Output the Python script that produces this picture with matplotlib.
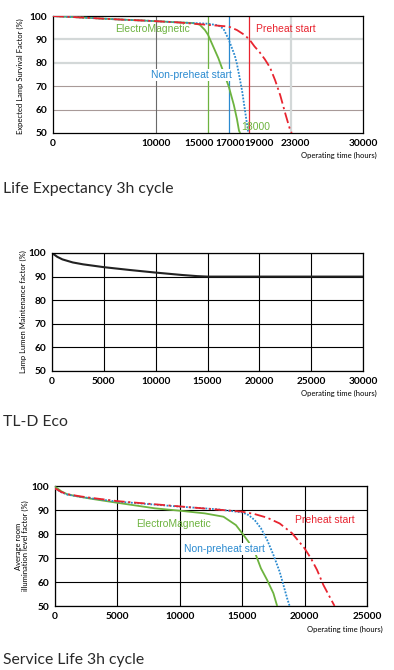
import matplotlib
matplotlib.use("Agg")
import matplotlib.pyplot as plt
import matplotlib.transforms as mtransforms

# --- Life Expectancy 3h cycle ---
em1_x = [0, 3000, 6000, 9000, 12000, 13500, 14200, 14700, 15000, 15500, 16000, 16500, 17000, 17500, 17800, 18000, 18100]
em1_y = [100, 99.3, 98.6, 98, 97.3, 97, 96.3, 94, 92, 87, 82, 76, 70, 62, 56, 51, 50]
np1_x = [0, 3000, 6000, 9000, 12000, 15000, 16000, 16500, 17000, 17300, 17600, 17800, 18000, 18300, 18500, 18700, 18900]
np1_y = [100, 99.3, 98.6, 98, 97.3, 96.7, 96, 94.5, 90, 86.5, 83, 79.5, 75, 68, 62, 56, 50]
ph1_x = [0, 3000, 6000, 9000, 12000, 15000, 17000, 17800, 18500, 19000, 19500, 20000, 20500, 21000, 21500, 22000, 22500, 22900, 23100]
ph1_y = [100, 99.3, 98.6, 98, 97.3, 96.2, 95.5, 94, 92, 90, 87, 84.5, 81.5, 78, 72.5, 66, 58, 52, 50]
ticks1 = [0, 10000, 15000, 17000, 19000, 23000, 30000]

# --- TL-D Eco lumen maintenance ---
eco_x = [0, 250, 500, 1000, 2000, 3000, 4000, 5000, 7500, 10000, 12500, 14000, 15000, 30000]
eco_y = [100, 99.2, 98.4, 97.3, 96, 95.2, 94.6, 94, 92.8, 91.7, 90.7, 90.2, 90, 90]

# --- Service Life 3h cycle ---
em3_x = [0, 250, 500, 1000, 2000, 3000, 5000, 8000, 10000, 12000, 13500, 14500, 15000, 15500, 16000, 16500, 17000, 17500, 17800]
em3_y = [99.7, 98.8, 97.8, 96.5, 95.5, 94.6, 93, 90.7, 89.7, 88.6, 87.2, 83.7, 80.3, 76.8, 72.6, 65.7, 60.8, 55.3, 50]
np3_x = [0, 250, 500, 1000, 2000, 3000, 5000, 10000, 13000, 15000, 15500, 16000, 16500, 17000, 17500, 18000, 18300, 18600, 18800]
np3_y = [99, 98.2, 97.4, 96.4, 95.5, 94.8, 93.5, 91.4, 90.3, 89, 87.9, 85.8, 82.4, 77.5, 71.3, 64.3, 58.8, 53.2, 50]
ph3_x = [0, 250, 500, 1000, 2000, 3000, 5000, 10000, 15000, 16000, 17000, 18000, 19000, 20000, 20500, 21000, 21500, 22000, 22400]
ph3_y = [99, 98.3, 97.5, 96.6, 95.7, 95, 93.7, 91.5, 89.3, 88.3, 86.8, 84.4, 80.3, 74, 69.9, 65, 58.8, 53.9, 50]

GREEN = "#6db33f"
BLUE = "#2a8ad0"
RED = "#e8242f"
DASHDOT = (0, (6, 2, 1.2, 2))
DOTTED = (0, (1, 0.8))

W, H = 394, 670
fig = plt.figure(figsize=(W / 100, H / 100), dpi=100)


def axes_px(left, top, right, bottom):
    return fig.add_axes([left / W, 1 - bottom / H, (right - left) / W, (bottom - top) / H])


def style_axes(ax, xmax):
    ax.set_xlim(0, xmax)
    ax.set_ylim(50, 100)
    ax.set_yticks([50, 60, 70, 80, 90, 100])
    ax.tick_params(length=0, labelsize=7.3, pad=4)
    for lab in ax.get_xticklabels() + ax.get_yticklabels():
        lab.set_fontfamily("Lato")
        lab.set_fontweight("bold")
    for sp in ax.spines.values():
        sp.set_linewidth(0.9)
        sp.set_color("black")


tick_font = dict(family="Lato", size=5.5)
title_font = dict(family="Lato", size=11.3, weight="normal", color="#2a2a2a")
curve_font = dict(family="Liberation Sans", size=7.5)
white_box = dict(facecolor="white", edgecolor="none", pad=0.5)

# chart 1
ax1 = axes_px(53, 16, 363, 133)
ax1.set_xticks(ticks1)
ax1.set_xticklabels([str(t) for t in ticks1])
style_axes(ax1, 30000)
for y in [90, 80]:
    ax1.axhline(y, color="#d3d8d8", lw=1.6, zorder=1)
for y in [70, 60]:
    ax1.axhline(y, color="#a89a98", lw=0.8, zorder=1)
ax1.axvline(10000, color="#6a6a6a", lw=0.8, zorder=1)
ax1.axvline(23000, color="#d3d8d8", lw=1.6, zorder=1)
ax1.axvline(15000, color=GREEN, lw=0.9, zorder=2)
ax1.axvline(17000, color=BLUE, lw=0.9, zorder=2)
ax1.axvline(19000, color=RED, lw=0.9, zorder=2)
ax1.plot(em1_x, em1_y, color=GREEN, lw=1.3, zorder=3)
ax1.plot(np1_x, np1_y, color=BLUE, lw=1.3, ls=DOTTED, zorder=3)
ax1.plot(ph1_x, ph1_y, color=RED, lw=1.3, ls=DASHDOT, zorder=4)
shifts = {15000: -9, 17000: 1, 19000: 10, 23000: 5}
for t, lab in zip(ticks1, ax1.get_xticklabels()):
    if t in shifts:
        off = mtransforms.ScaledTranslation(shifts[t] / 100, 0, fig.dpi_scale_trans)
        lab.set_transform(lab.get_transform() + off)
ax1.text(115 / W, 1 - 29 / H, "ElectroMagnetic", color=GREEN, transform=fig.transFigure,
         va="center", ha="left", zorder=5, **curve_font)
ax1.text(256 / W, 1 - 29 / H, "Preheat start", color=RED, transform=fig.transFigure,
         va="center", ha="left", zorder=5, **curve_font)
ax1.text(151 / W, 1 - 75 / H, "Non-preheat start", color=BLUE, transform=fig.transFigure,
         va="center", ha="left", bbox=white_box, zorder=5, **curve_font)
ax1.text(241 / W, 1 - 127 / H, "18000", color=GREEN, transform=fig.transFigure,
         va="center", ha="left", zorder=5, **curve_font)
fig.text(20 / W, 1 - 76 / H, "Expected Lamp Survival Factor (%)", rotation=90,
         va="center", ha="center", **tick_font)
fig.text(377 / W, 1 - 155 / H, "Operating time (hours)", ha="right", va="center", **tick_font)
fig.text(3 / W, 1 - 189 / H, "Life Expectancy 3h cycle", ha="left", va="center", **title_font)

# chart 2
ax2 = axes_px(52, 253, 363, 371)
ax2.set_xticks(range(0, 30001, 5000))
style_axes(ax2, 30000)
ax2.grid(True, color="black", lw=0.8)
ax2.set_axisbelow(True)
ax2.plot(eco_x, eco_y, color="#222222", lw=1.5)
fig.text(23 / W, 1 - 312 / H, "Lamp Lumen Maintenance factor (%)", rotation=90,
         va="center", ha="center", **tick_font)
fig.text(377 / W, 1 - (230 + 163) / H, "Operating time (hours)", ha="right", va="center", **tick_font)
fig.text(3 / W, 1 - 422 / H, "TL-D Eco", ha="left", va="center", **title_font)

# chart 3
ax3 = axes_px(55, 486, 367, 606)
ax3.set_xticks(range(0, 25001, 5000))
style_axes(ax3, 25000)
ax3.grid(True, color="black", lw=0.8)
ax3.set_axisbelow(True)
ax3.plot(em3_x, em3_y, color=GREEN, lw=1.3, zorder=3)
ax3.plot(np3_x, np3_y, color=BLUE, lw=1.3, ls=DOTTED, zorder=3)
ax3.plot(ph3_x, ph3_y, color=RED, lw=1.3, ls=DASHDOT, zorder=4)
ax3.text(136 / W, 1 - 524 / H, "ElectroMagnetic", color=GREEN, transform=fig.transFigure,
         va="center", ha="left", zorder=5, **curve_font)
ax3.text(295 / W, 1 - 520 / H, "Preheat start", color=RED, transform=fig.transFigure,
         va="center", ha="left", zorder=5, **curve_font)
ax3.text(184 / W, 1 - 549 / H, "Non-preheat start", color=BLUE, transform=fig.transFigure,
         va="center", ha="left", bbox=white_box, zorder=5, **curve_font)
fig.text(22 / W, 1 - 546 / H, "Average room\nillumination level factor (%)", rotation=90,
         va="center", ha="center", linespacing=0.9, **tick_font)
fig.text(383 / W, 1 - 629 / H, "Operating time (hours)", ha="right", va="center", **tick_font)
fig.text(3 / W, 1 - 660 / H, "Service Life 3h cycle", ha="left", va="center", **title_font)

fig.savefig("out.png", dpi=100)
